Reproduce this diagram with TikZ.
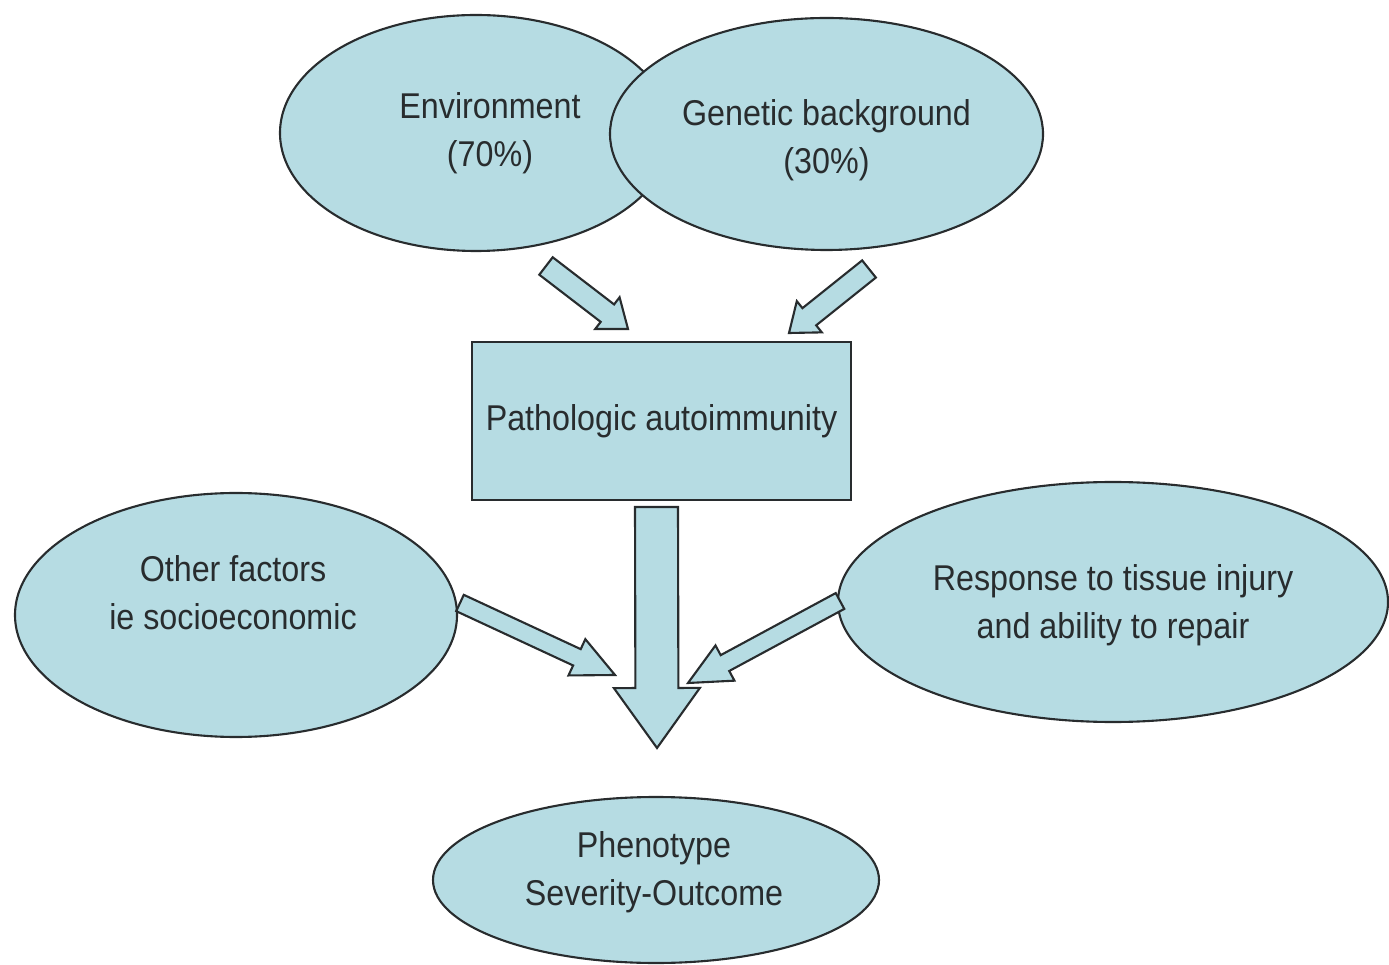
\documentclass[tikz,border=0pt]{standalone}
\usepackage{fontspec}
\setmainfont{Liberation Sans}[FakeStretch=0.9]
\usetikzlibrary{shapes.geometric,calc}

\definecolor{cellblue}{RGB}{182,220,227}
\definecolor{inkgray}{RGB}{40,44,46}

\tikzset{
  blob/.style={ellipse, draw=inkgray, fill=cellblue, line width=0.6pt, inner sep=0pt},
  box/.style={rectangle, draw=inkgray, fill=cellblue, line width=0.8pt, inner sep=0pt},
  txt/.style={align=center, text=inkgray, font=\fontsize{10.2}{13.6}\selectfont},
  flowarrow/.style={draw=inkgray, fill=cellblue, line width=0.6pt, line join=miter}
}

% block arrow: tail, tip, shaft half-width, head half-width, head length
\newcommand{\blockarrow}[5]{%
  \coordinate (ba-base) at ($(#2)!#5!(#1)$);
  \draw[flowarrow] ($(#1)!#3!90:(#2)$) -- ($(ba-base)!#3!90:(#2)$)
    -- ($(ba-base)!#4!90:(#2)$) -- (#2) -- ($(ba-base)!#4!-90:(#2)$)
    -- ($(ba-base)!#3!-90:(#2)$) -- ($(#1)!#3!-90:(#2)$) -- cycle;
}

\begin{document}
\begin{tikzpicture}
  \useasboundingbox (0,0) rectangle (13.89,9.64);

  % causes
  \node[blob, minimum width=3.92cm, minimum height=2.36cm] (env) at (4.76,8.31) {};
  \node[blob, minimum width=4.33cm, minimum height=2.32cm] (gen) at (8.265,8.30) {};
  \node[txt] at ($(env)+(0.14,0)$) {Environment\\(70\%)};
  \node[txt] at ($(gen)+(0,-0.06)$) {Genetic background\\(30\%)};

  \node[box, minimum width=3.79cm, minimum height=1.58cm] (patho) at (6.615,5.43)
    {\fontsize{10.2}{13.6}\selectfont\color{inkgray}Pathologic autoimmunity};

  \node[blob, minimum width=4.42cm, minimum height=2.44cm] (other) at (2.36,3.49) {};
  \node[blob, minimum width=5.50cm, minimum height=2.40cm] (resp) at (11.13,3.62) {};
  \node[blob, minimum width=4.46cm, minimum height=1.66cm] (pheno) at (6.56,0.84) {};
  \node[txt] at ($(other)+(-0.03,0.22)$) {Other factors\\ie socioeconomic};
  \node[txt] at ($(resp)+(0,-0.03)$) {Response to tissue injury\\and ability to repair};
  \node[txt] at ($(pheno)+(-0.02,0.08)$) {Phenotype\\Severity-Outcome};

  % arrow ends
  \coordinate (envout) at (5.46,6.98);
  \coordinate (pathoin1) at (6.28,6.35);
  \coordinate (genout) at (8.69,6.95);
  \coordinate (pathoin2) at (7.89,6.31);
  \coordinate (pathoout) at (6.565,4.57);
  \coordinate (phenoin) at (6.57,2.16);
  \coordinate (otherout) at (4.60,3.61);
  \coordinate (phenoin1) at (6.15,2.89);
  \coordinate (respout) at (8.40,3.63);
  \coordinate (phenoin2) at (6.88,2.81);

  \blockarrow{envout}{pathoin1}{0.11cm}{0.20cm}{0.26cm}
  \blockarrow{genout}{pathoin2}{0.11cm}{0.20cm}{0.26cm}
  \blockarrow{pathoout}{phenoin}{0.215cm}{0.43cm}{0.60cm}
  \blockarrow{otherout}{phenoin1}{0.09cm}{0.20cm}{0.42cm}
  \blockarrow{respout}{phenoin2}{0.09cm}{0.20cm}{0.42cm}
\end{tikzpicture}
\end{document}
